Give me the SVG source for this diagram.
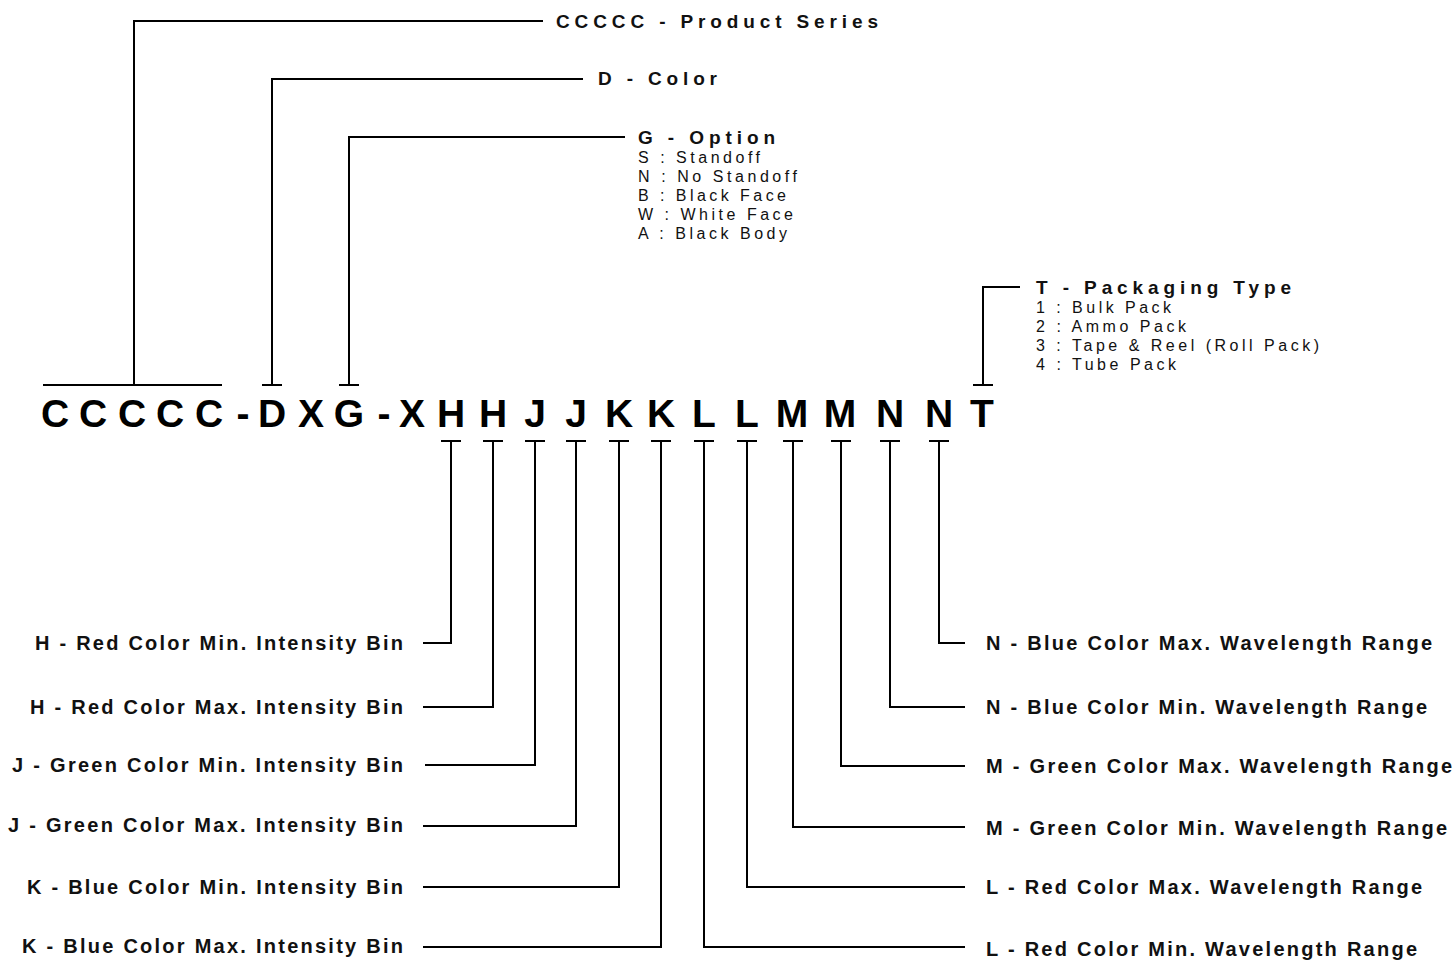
<svg xmlns="http://www.w3.org/2000/svg" width="1455" height="961" viewBox="0 0 1455 961">
<style>
.ln{stroke:#000;stroke-width:2;fill:none}
.code{font-family:"Liberation Sans",Arial,sans-serif;font-weight:bold;font-size:39px;fill:#000;text-anchor:middle}
.lbl{font-family:"Liberation Sans",Arial,sans-serif;font-weight:bold;font-size:20px;fill:#111}
.hd{font-family:"Liberation Sans",Arial,sans-serif;font-weight:bold;font-size:19px;fill:#111}
.sub{font-family:"Liberation Sans",Arial,sans-serif;font-size:16px;fill:#111}
</style>
<rect width="1455" height="961" fill="#fff"/>
<g id="code">
<text class="code" x="55" y="427">C</text>
<text class="code" x="93" y="427">C</text>
<text class="code" x="132" y="427">C</text>
<text class="code" x="170" y="427">C</text>
<text class="code" x="209" y="427">C</text>
<text class="code" x="243" y="427">-</text>
<text class="code" x="272" y="427">D</text>
<text class="code" x="311" y="427">X</text>
<text class="code" x="349" y="427">G</text>
<text class="code" x="384" y="427">-</text>
<text class="code" x="412" y="427">X</text>
<text class="code" x="451" y="427">H</text>
<text class="code" x="493" y="427">H</text>
<text class="code" x="535" y="427">J</text>
<text class="code" x="576" y="427">J</text>
<text class="code" x="619" y="427">K</text>
<text class="code" x="661" y="427">K</text>
<text class="code" x="704" y="427">L</text>
<text class="code" x="747" y="427">L</text>
<text class="code" x="792" y="427">M</text>
<text class="code" x="840" y="427">M</text>
<text class="code" x="890" y="427">N</text>
<text class="code" x="939" y="427">N</text>
<text class="code" x="982" y="427">T</text>
</g>
<g id="connectors">
<path class="ln" d="M43 385H222M134 385V21H543"/>
<path class="ln" d="M262 385H282M272 385V79H583"/>
<path class="ln" d="M339 385H359M349 385V137H625"/>
<path class="ln" d="M973 385H993M983 385V287H1020"/>
<path class="ln" d="M441 441H461M451 441V643H423"/>
<path class="ln" d="M483 441H503M493 441V707H423"/>
<path class="ln" d="M525 441H545M535 441V765H425"/>
<path class="ln" d="M566 441H586M576 441V826H423"/>
<path class="ln" d="M609 441H629M619 441V887H423"/>
<path class="ln" d="M651 441H671M661 441V947H423"/>
<path class="ln" d="M694 441H714M704 441V947H965"/>
<path class="ln" d="M737 441H757M747 441V887H965"/>
<path class="ln" d="M783 441H803M793 441V827H965"/>
<path class="ln" d="M831 441H851M841 441V766H965"/>
<path class="ln" d="M880 441H900M890 441V707H965"/>
<path class="ln" d="M929 441H949M939 441V643H965"/>
</g>
<g id="top-labels">
<text class="hd" x="556" y="28" textLength="322" lengthAdjust="spacing">CCCCC - Product Series</text>
<text class="hd" x="598" y="85" textLength="119" lengthAdjust="spacing">D - Color</text>
<g id="option">
<text class="hd" x="638" y="144" textLength="137" lengthAdjust="spacing">G - Option</text>
<text class="sub" x="638" y="163" textLength="122" lengthAdjust="spacing">S : Standoff</text>
<text class="sub" x="638" y="182" textLength="159" lengthAdjust="spacing">N : No Standoff</text>
<text class="sub" x="638" y="201" textLength="148" lengthAdjust="spacing">B : Black Face</text>
<text class="sub" x="638" y="220" textLength="155" lengthAdjust="spacing">W : White Face</text>
<text class="sub" x="638" y="239" textLength="149" lengthAdjust="spacing">A : Black Body</text>
</g>
<g id="packaging">
<text class="hd" x="1036" y="294" textLength="255" lengthAdjust="spacing">T - Packaging Type</text>
<text class="sub" x="1036" y="313" textLength="135" lengthAdjust="spacing">1 : Bulk Pack</text>
<text class="sub" x="1036" y="332" textLength="150" lengthAdjust="spacing">2 : Ammo Pack</text>
<text class="sub" x="1036" y="351" textLength="283" lengthAdjust="spacing">3 : Tape &amp; Reel (Roll Pack)</text>
<text class="sub" x="1036" y="370" textLength="140" lengthAdjust="spacing">4 : Tube Pack</text>
</g>
</g>
<g id="left-labels">
<text class="lbl" x="35" y="650" textLength="368" lengthAdjust="spacing">H - Red Color Min. Intensity Bin</text>
<text class="lbl" x="30" y="714" textLength="373" lengthAdjust="spacing">H - Red Color Max. Intensity Bin</text>
<text class="lbl" x="12" y="772" textLength="391" lengthAdjust="spacing">J - Green Color Min. Intensity Bin</text>
<text class="lbl" x="8" y="832" textLength="395" lengthAdjust="spacing">J - Green Color Max. Intensity Bin</text>
<text class="lbl" x="27" y="894" textLength="376" lengthAdjust="spacing">K - Blue Color Min. Intensity Bin</text>
<text class="lbl" x="22" y="953" textLength="381" lengthAdjust="spacing">K - Blue Color Max. Intensity Bin</text>
</g>
<g id="right-labels">
<text class="lbl" x="986" y="650" textLength="446" lengthAdjust="spacing">N - Blue Color Max. Wavelength Range</text>
<text class="lbl" x="986" y="714" textLength="441" lengthAdjust="spacing">N - Blue Color Min. Wavelength Range</text>
<text class="lbl" x="986" y="773" textLength="466" lengthAdjust="spacing">M - Green Color Max. Wavelength Range</text>
<text class="lbl" x="986" y="835" textLength="461" lengthAdjust="spacing">M - Green Color Min. Wavelength Range</text>
<text class="lbl" x="986" y="894" textLength="436" lengthAdjust="spacing">L - Red Color Max. Wavelength Range</text>
<text class="lbl" x="986" y="956" textLength="431" lengthAdjust="spacing">L - Red Color Min. Wavelength Range</text>
</g>
</svg>
